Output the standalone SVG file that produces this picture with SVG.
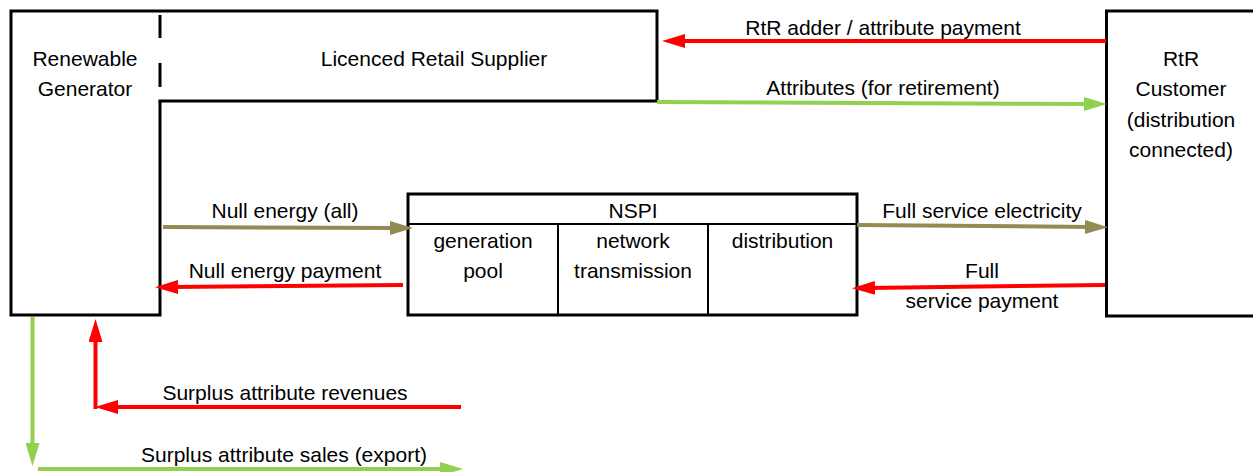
<svg xmlns="http://www.w3.org/2000/svg" width="1253" height="472" viewBox="0 0 1253 472">
<defs>
<style>
text{font-family:"Liberation Sans",Arial,sans-serif;font-size:21px;fill:#000;text-anchor:middle}
.box{fill:none;stroke:#000;stroke-width:3}
.thin{fill:none;stroke:#000;stroke-width:2}
.red{fill:none;stroke:#FF0000;stroke-width:4}
.green{fill:none;stroke:#92D050;stroke-width:4}
.olive{fill:none;stroke:#948A54;stroke-width:4}
</style>
<marker id="ar" markerUnits="userSpaceOnUse" markerWidth="23" markerHeight="14" refX="8" refY="7" orient="auto"><path d="M0,0 L23,7 L0,14 Z" fill="#FF0000"/></marker>
<marker id="ag" markerUnits="userSpaceOnUse" markerWidth="23" markerHeight="14" refX="8" refY="7" orient="auto"><path d="M0,0 L23,7 L0,14 Z" fill="#92D050"/></marker>
<marker id="ao" markerUnits="userSpaceOnUse" markerWidth="23" markerHeight="14" refX="8" refY="7" orient="auto"><path d="M0,0 L23,7 L0,14 Z" fill="#948A54"/></marker>
</defs>
<rect width="1253" height="472" fill="#fff"/>
<g id="renewable-generator">
<path class="box" d="M160,101 L160,315 L11,315 L11,11 L160,11"/>
<text x="85" y="66">Renewable</text>
<text x="85" y="96">Generator</text>
</g>
<g id="licenced-retail-supplier">
<path class="box" d="M160,11 L657,11 L657,101 L158.5,101"/>
<path d="M160,15 L160,38 M160,63 L160,87" stroke="#000" stroke-width="3"/>
<text x="434" y="66">Licenced Retail Supplier</text>
</g>
<g id="rtr-customer">
<rect class="box" x="1106.5" y="11" width="160" height="305"/>
<text x="1181" y="66">RtR</text>
<text x="1181" y="96">Customer</text>
<text x="1181" y="127">(distribution</text>
<text x="1181" y="157">connected)</text>
</g>
<g id="nspi">
<rect class="box" x="408" y="194" width="449" height="121"/>
<path class="thin" d="M408,224 L857,224 M558,224 L558,315 M708,224 L708,315"/>
<text x="633" y="218">NSPI</text>
<text x="483" y="248">generation</text>
<text x="483" y="278">pool</text>
<text x="633" y="248">network</text>
<text x="633" y="278">transmission</text>
<text x="782.5" y="248">distribution</text>
</g>
<g id="connectors">
<path class="red" d="M1106,41 L677,41" marker-end="url(#ar)"/>
<text x="883" y="35">RtR adder / attribute payment</text>
<path class="green" d="M657,102 L1092,104" marker-end="url(#ag)"/>
<text x="883" y="95">Attributes (for retirement)</text>
<path class="olive" d="M163,227 L398,228" marker-end="url(#ao)"/>
<text x="285" y="218">Null energy (all)</text>
<path class="red" d="M403,285 L170,287" marker-end="url(#ar)"/>
<text x="285" y="278">Null energy payment</text>
<path class="olive" d="M857,225 L1093,227" marker-end="url(#ao)"/>
<text x="982" y="218">Full service electricity</text>
<path class="red" d="M1105,285 L867,288" marker-end="url(#ar)"/>
<text x="982" y="278">Full</text>
<text x="982" y="308">service payment</text>
<path class="red" d="M461,407 L110,407" marker-end="url(#ar)"/>
<path class="red" d="M95.5,409 L95.5,334" marker-end="url(#ar)"/>
<text x="285" y="400">Surplus attribute revenues</text>
<path class="green" d="M32.5,317 L32.5,451" marker-end="url(#ag)"/>
<path class="green" d="M38,469 L448,469" marker-end="url(#ag)"/>
<text x="284" y="462">Surplus attribute sales (export)</text>
</g>
</svg>
